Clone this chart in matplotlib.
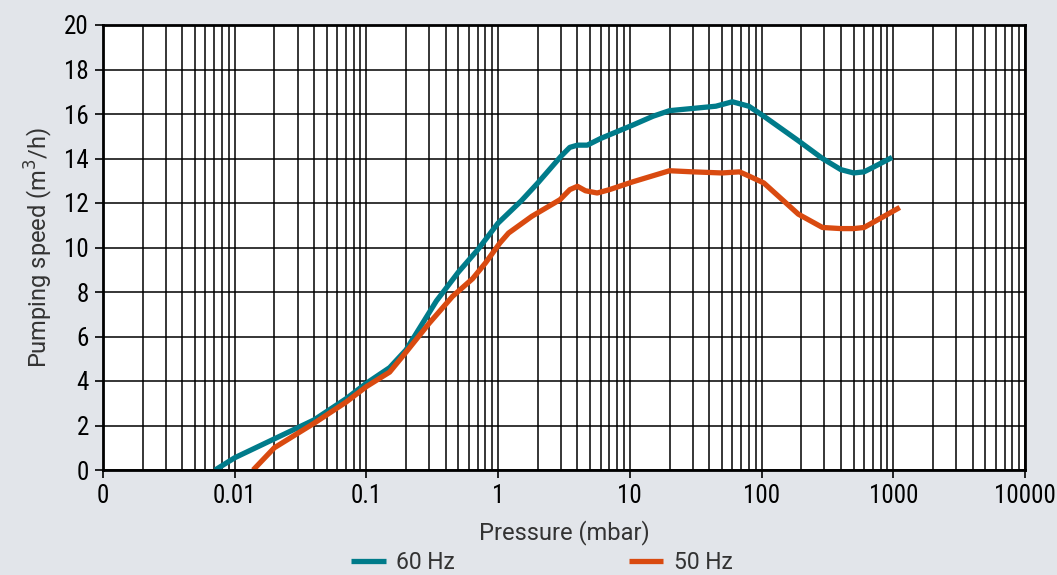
import numpy as np
import matplotlib
matplotlib.use("Agg")
import matplotlib.pyplot as plt
from matplotlib.ticker import LogLocator, NullFormatter

# data (pressure in mbar, speed in m3/h)
p_60 = [0.0071, 0.01, 0.02, 0.04, 0.07, 0.1, 0.15, 0.2, 0.34, 0.5, 0.7, 1.0, 1.5,
        2.0, 3.0, 3.5, 4.0, 4.75, 6.0, 10.5, 15, 20, 30, 45, 60, 80, 104, 190, 290,
        400, 500, 600, 700, 980]
v_60 = [0.0, 0.55, 1.4, 2.25, 3.2, 3.9, 4.6, 5.4, 7.6, 8.9, 9.9, 11.1, 12.1,
        12.9, 14.1, 14.5, 14.6, 14.6, 14.9, 15.5, 15.9, 16.15, 16.25, 16.35, 16.55,
        16.35, 15.9, 14.8, 14.0, 13.5, 13.35, 13.4, 13.6, 14.05]

p_50 = [0.0138, 0.02, 0.04, 0.07, 0.1, 0.15, 0.2, 0.3, 0.45, 0.64, 0.8, 1.03, 1.2,
        1.8, 2.95, 3.5, 4.0, 4.6, 5.65, 7.0, 10.5, 20, 30, 50, 68, 81, 104, 190,
        290, 400, 500, 600, 1120]
v_50 = [0.0, 1.0, 2.1, 3.05, 3.75, 4.4, 5.3, 6.6, 7.8, 8.6, 9.3, 10.2, 10.65,
        11.4, 12.15, 12.6, 12.75, 12.55, 12.45, 12.6, 12.95, 13.45, 13.4, 13.35, 13.4,
        13.2, 12.9, 11.5, 10.9, 10.85, 10.85, 10.9, 11.8]

x_ticks = [0.001, 0.01, 0.1, 1, 10, 100, 1000, 10000]
x_labels = ['0', '0.01', '0.1', '1', '10', '100', '1000', '10000']
y_ticks = list(range(0, 21, 2))

bg = '#e2e5ea'
teal = '#007b8a'
orange = '#d94a10'
tick_font = ['Roboto Condensed', 'DejaVu Sans']
lab_font = ['Roboto', 'DejaVu Sans']
txt_col = '#333333'

fig = plt.figure(figsize=(10.57, 5.75), dpi=100, facecolor=bg)
ax = fig.add_axes([103/1057, 1-470/575, (1025-103)/1057, (470-25)/575])
ax.set_facecolor('white')

ax.plot(p_60, v_60, color=teal, lw=3.8, solid_capstyle='butt', solid_joinstyle='round', label='60 Hz', zorder=3)
ax.plot(p_50, v_50, color=orange, lw=3.8, solid_capstyle='butt', solid_joinstyle='round', label='50 Hz', zorder=3)

ax.set_xscale('log')
ax.set_xlim(0.001, 10000)
ax.set_ylim(0, 20)
ax.set_xticks(x_ticks)
ax.set_xticklabels(x_labels)
ax.xaxis.set_minor_locator(LogLocator(base=10, subs=np.arange(2, 10)))
ax.xaxis.set_minor_formatter(NullFormatter())
ax.set_yticks(y_ticks)

ax.grid(True, which='both', axis='x', color='black', lw=1.1)
ax.grid(True, which='major', axis='y', color='black', lw=1.1)
ax.set_axisbelow(True)

for s in ax.spines.values():
    s.set_linewidth(2.0)
    s.set_color('black')
    s.set_zorder(4)

ax.tick_params(axis='both', which='major', length=6, width=1.2, color='black',
               labelsize=18, pad=4)
ax.tick_params(axis='x', which='minor', length=0)
for lab in ax.get_xticklabels() + ax.get_yticklabels():
    lab.set_family(tick_font)

ax.set_xlabel('Pressure (mbar)', family=lab_font, fontsize=17, color=txt_col, labelpad=9)
ax.set_ylabel('Pumping speed (m$^3$/h)', family=lab_font, fontsize=17, color=txt_col, labelpad=7)

leg = fig.legend(loc='upper center', bbox_to_anchor=(542/1057, 1-537/575), ncol=2,
                 frameon=False, handlelength=1.5, handletextpad=0.45,
                 columnspacing=7.6, borderpad=0.1,
                 prop={'family': lab_font, 'size': 16.5})
for t in leg.get_texts():
    t.set_color(txt_col)

fig.savefig('out.png', dpi=100, facecolor=bg)
